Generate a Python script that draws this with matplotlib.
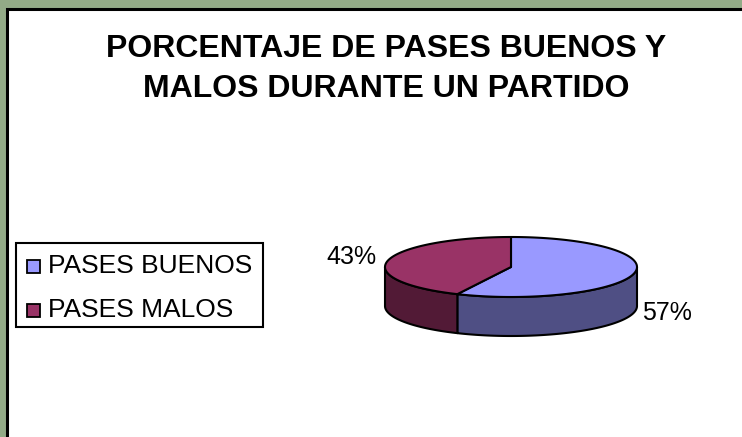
import numpy as np
import matplotlib.pyplot as plt
from matplotlib.patches import Polygon, Rectangle

plt.rcParams['font.family'] = ['Liberation Sans', 'DejaVu Sans']

TITLE = "PORCENTAJE DE PASES BUENOS Y\nMALOS DURANTE UN PARTIDO"
labels = ["PASES BUENOS", "PASES MALOS"]
values = [57, 43]
top_colors = ["#9999FF", "#993366"]
side_colors = ["#4F4F84", "#521A36"]

# pie geometry in pixel units
CX, CY = 511, 267
RX, RY = 126, 30
DEPTH = 39
N = 200

fig = plt.figure(figsize=(7.42, 4.37), dpi=100)
fig.patch.set_facecolor("#93AB87")
ax = fig.add_axes([0, 0, 1, 1])
ax.set_xlim(0, 742)
ax.set_ylim(437, 0)
ax.axis("off")

# chart area
ax.add_patch(Rectangle((7, 9), 745, 440, facecolor="white", edgecolor="black", lw=2.2, zorder=1))

ax.text(386, 69, TITLE, ha="center", va="center", fontsize=23, fontweight="bold",
        linespacing=1.4, zorder=5)


def ell(t, dz=0):
    r = np.radians(t)
    return np.column_stack([CX + RX * np.cos(r), CY - RY * np.sin(r) + dz])


total = float(sum(values))
spans = []
start = 90.0
for v in values:
    t1 = start - v / total * 360.0
    spans.append((t1, start))
    start = t1

# side walls (front half only: 180..360 deg)
for (t1, t2), col in zip(spans, side_colors):
    for k in (-360, 0, 360):
        a = max(t1, 180 + k)
        b = min(t2, 360 + k)
        if b <= a:
            continue
        t = np.linspace(a, b, N)
        pts = np.vstack([ell(t), ell(t[::-1], DEPTH)])
        ax.add_patch(Polygon(pts, closed=True, facecolor=col, edgecolor="black", lw=1.5,
                             joinstyle="round", zorder=2))

# tops
for (t1, t2), col in zip(spans, top_colors):
    t = np.linspace(t1, t2, N)
    pts = np.vstack([[CX, CY], ell(t)])
    ax.add_patch(Polygon(pts, closed=True, facecolor=col, edgecolor="black", lw=1.5,
                         joinstyle="round", zorder=3))

# percent labels
for (t1, t2), v in zip(spans, values):
    m = np.radians((t1 + t2) / 2)
    if np.cos(m) > 0:
        x = CX + RX * np.cos(m) + 8
        y = CY - RY * np.sin(m) + DEPTH
        ha = "left"
    else:
        x = CX + RX * np.cos(m) - 12
        y = CY - RY * np.sin(m) - 3
        ha = "right"
    ax.text(x, y, "%d%%" % round(v / total * 100), ha=ha, va="center", fontsize=18, zorder=5)

# legend
ax.add_patch(Rectangle((15.5, 242.5), 247, 84.5, facecolor="white", edgecolor="black", lw=1.5, zorder=4))
for i, (lab, col) in enumerate(zip(labels, top_colors)):
    y = 266 + i * 44
    ax.add_patch(Rectangle((27, y - 6.5), 13, 13, facecolor=col, edgecolor="black", lw=1.3, zorder=5))
    ax.text(48, y, lab, ha="left", va="center", fontsize=19, zorder=5)

fig.savefig("out.png", dpi=100, facecolor=fig.get_facecolor())
